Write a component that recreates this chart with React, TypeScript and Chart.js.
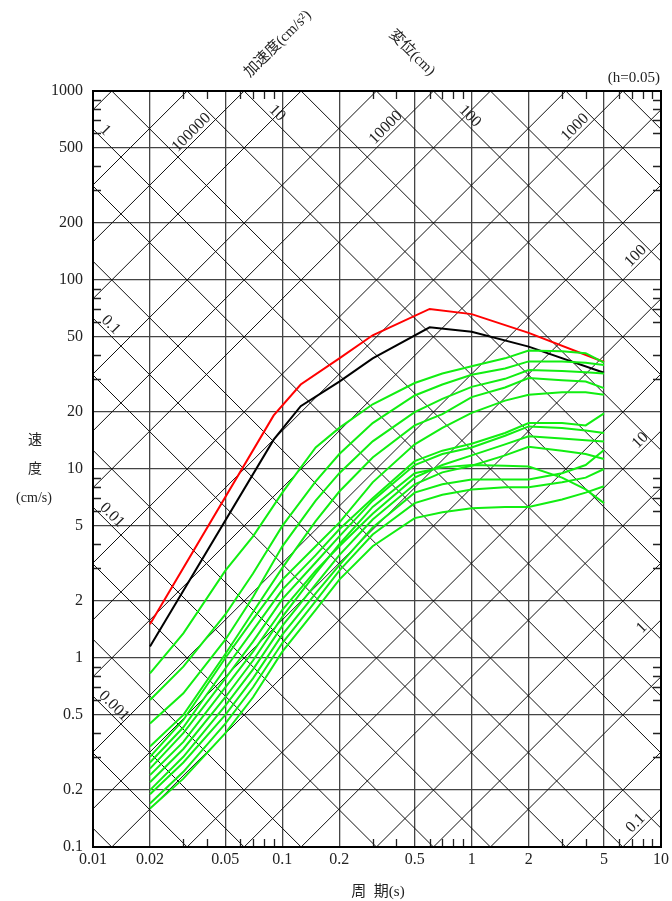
import React, { useEffect, useRef } from "react";
import { Chart, registerables } from "chart.js";
Chart.register(...registerables);

// ---- axes ----
const periodTicks = [0.01, 0.02, 0.05, 0.1, 0.2, 0.5, 1, 2, 5, 10];
const velocityTicks = [0.1, 0.2, 0.5, 1, 2, 5, 10, 20, 50, 100, 200, 500, 1000];
const minorMultipliers = [3, 4, 6, 7, 8, 9];
const diagSteps = [1, 2, 5];
const dispDecades = [-4, -3, -2, -1, 0, 1, 2, 3];
const accDecades = [-2, -1, 0, 1, 2, 3, 4, 5, 6];

// ---- diagonal scale labels (value, period where the label sits) ----
const dispLabels = ["0.001", "0.01", "0.1", "1", "10", "100"];
const dispLabelPeriods = [0.0129, 0.0126, 0.0124, 0.0116, 0.094, 0.978];
const accLabels = ["100000", "10000", "1000", "100", "10", "1", "0.1"];
const accLabelPeriods = [0.0331, 0.352, 3.52, 7.35, 7.78, 7.93, 7.35];

// ---- spectra ----
const redPeriods = [0.02, 0.09, 0.125, 0.2, 0.3, 0.6, 1.0, 2.0, 5.0];
const redValues = [1.51, 19.2, 28, 38.5, 51, 70.3, 66, 52.5, 36.8];
const blackPeriods = [0.02, 0.09, 0.125, 0.2, 0.3, 0.6, 1.0, 2.0, 5.0];
const blackValues = [1.15, 14.3, 21.5, 29, 38.5, 56.2, 53.2, 44.4, 32.3];

const greenPeriods = [0.02, 0.03, 0.05, 0.07, 0.1, 0.15, 0.2, 0.3, 0.5, 0.7, 1, 1.5, 2, 3, 4, 5];
const green1 = [0.83, 1.35, 2.9, 4.4, 7.5, 13, 16.5, 22, 28.5, 32, 35, 38.5, 42.4, 42, 41, 36.5];
const green2 = [0.6, 0.9, 1.7, 2.8, 5.0, 8.6, 12, 17.5, 24.5, 28, 31.5, 34, 37.1, 37, 36.5, 35.5];
const green3 = [0.45, 0.65, 1.25, 2.1, 3.9, 6.8, 9.5, 14, 20, 23.5, 27.2, 30, 33.4, 33, 32.5, 32];
const green4 = [0.34, 0.5, 1.05, 1.75, 3.0, 5.3, 7.6, 11.5, 17, 19.5, 24, 27, 30.3, 29.5, 29, 26.8];
const green5 = [0.3, 0.47, 1.0, 1.6, 2.6, 3.9, 5.2, 8.5, 13.5, 16.5, 19.8, 23, 24.7, 25.5, 25.5, 24.7];
const green6 = [0.28, 0.43, 0.88, 1.4, 2.3, 3.5, 4.8, 7.0, 11, 12.5, 13.6, 15.5, 17.5, 17.5, 17, 19.7];
const green7 = [0.26, 0.4, 0.78, 1.22, 2.05, 3.2, 4.4, 6.8, 10.5, 12, 13, 15, 16.8, 16.5, 16, 15.5];
const green8 = [0.24, 0.36, 0.7, 1.08, 1.8, 2.9, 3.9, 5.8, 9.0, 10.5, 11.8, 13.5, 14.9, 14.5, 14.2, 14.0];
const green9 = [0.22, 0.33, 0.62, 0.97, 1.65, 2.8, 4.0, 6.3, 9.5, 10.2, 10.5, 10.4, 10.3, 9.0, 7.8, 6.6];
const green10 = [0.2, 0.3, 0.56, 0.87, 1.48, 2.45, 3.5, 5.4, 8.3, 9.6, 10.4, 11.8, 13.1, 12.5, 12, 11.3];
const green11 = [0.19, 0.28, 0.5, 0.78, 1.33, 2.2, 3.1, 4.9, 7.5, 8.3, 8.8, 8.8, 8.8, 9.5, 10.5, 12.6];
const green12 = [0.17, 0.25, 0.45, 0.7, 1.2, 2.0, 2.9, 4.5, 6.6, 7.3, 7.8, 8.0, 8.0, 8.5, 9.0, 10.0];
const green13 = [0.16, 0.23, 0.4, 0.62, 1.08, 1.8, 2.6, 3.9, 5.5, 5.9, 6.2, 6.3, 6.3, 6.9, 7.5, 8.1];
const greens = [green1, green2, green3, green4, green5, green6, green7, green8, green9, green10, green11, green12, green13];

const SERIF = '"Liberation Serif", "Noto Sans CJK JP", serif';

const pts = (ts: number[], vs: number[]) => ts.map((t, i) => ({ x: t, y: vs[i] }));

const overlay = {
  id: "overlay",
  beforeDatasetsDraw(chart: any) {
    const { ctx, chartArea: a, scales } = chart;
    const x = scales.x, y = scales.y;
    ctx.save();
    ctx.beginPath();
    ctx.rect(a.left, a.top, a.right - a.left, a.bottom - a.top);
    ctx.clip();
    ctx.strokeStyle = "#111";
    ctx.lineWidth = 1;
    const t0 = 0.005, t1 = 20;
    for (const k of dispDecades) {
      for (const s of diagSteps) {
        const d = s * Math.pow(10, k);
        ctx.beginPath();
        ctx.moveTo(x.getPixelForValue(t0), y.getPixelForValue((2 * Math.PI * d) / t0));
        ctx.lineTo(x.getPixelForValue(t1), y.getPixelForValue((2 * Math.PI * d) / t1));
        ctx.stroke();
      }
    }
    for (const k of accDecades) {
      for (const s of diagSteps) {
        const A = s * Math.pow(10, k);
        ctx.beginPath();
        ctx.moveTo(x.getPixelForValue(t0), y.getPixelForValue((A * t0) / (2 * Math.PI)));
        ctx.lineTo(x.getPixelForValue(t1), y.getPixelForValue((A * t1) / (2 * Math.PI)));
        ctx.stroke();
      }
    }
    // minor edge ticks
    ctx.strokeStyle = "#222";
    ctx.lineWidth = 1.3;
    const L = 8;
    for (let k = -3; k <= 3; k++) {
      for (const m of minorMultipliers) {
        const t = m * Math.pow(10, k);
        if (t > 0.01 && t < 10) {
          const px = Math.round(x.getPixelForValue(t)) + 0.5;
          ctx.beginPath();
          ctx.moveTo(px, a.bottom);
          ctx.lineTo(px, a.bottom - L);
          ctx.moveTo(px, a.top);
          ctx.lineTo(px, a.top + L);
          ctx.stroke();
        }
        if (t > 0.1 && t < 1000) {
          const py = Math.round(y.getPixelForValue(t)) + 0.5;
          ctx.beginPath();
          ctx.moveTo(a.left, py);
          ctx.lineTo(a.left + L, py);
          ctx.moveTo(a.right, py);
          ctx.lineTo(a.right - L, py);
          ctx.stroke();
        }
      }
    }
    // diagonal labels
    ctx.fillStyle = "#222";
    ctx.font = "16px " + SERIF;
    ctx.textAlign = "center";
    ctx.textBaseline = "middle";
    dispLabels.forEach((lab, i) => {
      const t = dispLabelPeriods[i];
      const v = (2 * Math.PI * parseFloat(lab)) / t;
      const px = x.getPixelForValue(t), py = y.getPixelForValue(v) - 11;
      ctx.save();
      ctx.translate(px, py);
      ctx.rotate(Math.PI / 4);
      ctx.fillText(lab, 0, 0);
      ctx.restore();
    });
    accLabels.forEach((lab, i) => {
      const t = accLabelPeriods[i];
      const v = (parseFloat(lab) * t) / (2 * Math.PI);
      const px = x.getPixelForValue(t), py = y.getPixelForValue(v) - 11;
      ctx.save();
      ctx.translate(px, py);
      ctx.rotate(-Math.PI / 4);
      ctx.fillText(lab, 0, 0);
      ctx.restore();
    });
    ctx.restore();
  },
  afterDraw(chart: any) {
    const { ctx, chartArea: a } = chart;
    ctx.save();
    ctx.strokeStyle = "#000";
    ctx.lineWidth = 2;
    ctx.strokeRect(a.left, a.top, a.right - a.left, a.bottom - a.top);
    ctx.fillStyle = "#222";
    ctx.textAlign = "center";
    ctx.textBaseline = "middle";
    // left title
    ctx.font = "14px " + SERIF;
    ctx.fillText("速", 35, 440);
    ctx.fillText("度", 35, 469);
    ctx.fillText("(cm/s)", 34, 498);
    // bottom title
    ctx.font = "15px " + SERIF;
    ctx.fillText("周\u2002期(s)", 378, 892);
    // h label
    ctx.textAlign = "right";
    ctx.fillText("(h=0.05)", 660, 78);
    // rotated titles
    ctx.textAlign = "center";
    ctx.save();
    ctx.translate(278, 44);
    ctx.rotate(-Math.PI / 4);
    ctx.fillText("加速度(cm/s²)", 0, 0);
    ctx.restore();
    ctx.save();
    ctx.translate(412, 53);
    ctx.rotate(Math.PI / 4);
    ctx.fillText("変位(cm)", 0, 0);
    ctx.restore();
    ctx.restore();
  },
};

export default function App() {
  const ref = useRef<HTMLCanvasElement | null>(null);
  useEffect(() => {
    if (!ref.current) return;
    const datasets: any[] = [];
    greens.forEach((g, i) => {
      datasets.push({
        label: "g" + (i + 1),
        data: pts(greenPeriods, g),
        borderColor: "#11ee11",
        borderWidth: 2,
        pointRadius: 0,
        tension: 0,
      });
    });
    datasets.push({ label: "black", data: pts(blackPeriods, blackValues), borderColor: "#000", borderWidth: 2, pointRadius: 0 });
    datasets.push({ label: "red", data: pts(redPeriods, redValues), borderColor: "#ff0000", borderWidth: 2, pointRadius: 0 });
    const chart = new Chart(ref.current, {
      type: "line",
      data: { datasets },
      plugins: [overlay],
      options: {
        responsive: false,
        animation: false,
        layout: { padding: { top: 91, right: 9, left: 0, bottom: 0 } },
        plugins: { legend: { display: false }, tooltip: { enabled: false } },
        scales: {
          x: {
            type: "logarithmic",
            min: 0.01,
            max: 10,
            afterBuildTicks: (s: any) => {
              s.ticks = periodTicks.map((v) => ({ value: v }));
            },
            afterFit: (s: any) => {
              s.height = 54;
            },
            ticks: {
              autoSkip: false,
              maxRotation: 0,
              padding: 3,
              color: "#222",
              font: { family: SERIF, size: 16 },
              callback: (v: any) => String(v),
            },
            grid: { color: "#444", lineWidth: 1.3, drawTicks: false },
            border: { display: false },
          },
          y: {
            type: "logarithmic",
            min: 0.1,
            max: 1000,
            afterBuildTicks: (s: any) => {
              s.ticks = velocityTicks.map((v) => ({ value: v }));
            },
            afterFit: (s: any) => {
              s.width = 93;
            },
            ticks: {
              autoSkip: false,
              padding: 10,
              color: "#222",
              font: { family: SERIF, size: 16 },
              callback: (v: any) => String(v),
            },
            grid: { color: "#444", lineWidth: 1.3, drawTicks: false },
            border: { display: false },
          },
        },
      } as any,
    });
    return () => chart.destroy();
  }, []);
  return (
    <div style={{ position: "absolute", left: 0, top: 0, width: 672, height: 901, background: "#fff" }}>
      <canvas ref={ref} width={672} height={901} />
    </div>
  );
}
